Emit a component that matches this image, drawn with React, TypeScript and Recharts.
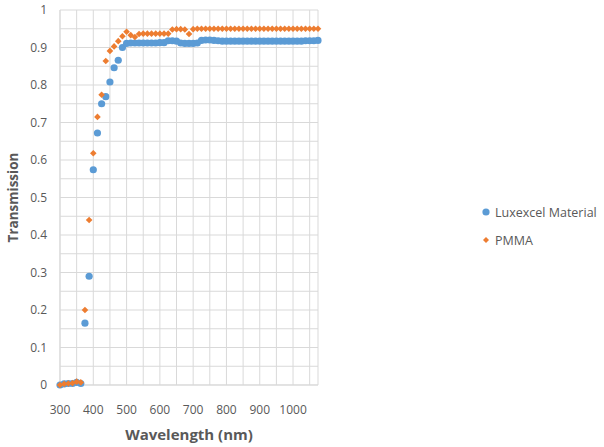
import React from 'react';
import { ScatterChart, Scatter, XAxis, YAxis, CartesianGrid, Legend, Label } from 'recharts';

const wavelengths = [
  300, 312.5, 325, 337.5, 350, 362.5, 375, 387.5, 400, 412.5, 425, 437.5, 450, 462.5, 475, 487.5,
  500, 512.5, 525, 537.5, 550, 562.5, 575, 587.5, 600, 612.5,
  625, 637.5, 650, 662.5, 675, 687.5, 700, 712.5, 725, 737.5,
  750, 762.5, 775, 787.5, 800, 812.5, 825, 837.5, 850, 862.5,
  875, 887.5, 900, 912.5, 925, 937.5, 950, 962.5, 975, 987.5,
  1000, 1012.5, 1025, 1037.5, 1050, 1062.5, 1075,
];

const luxexcel = [
  0, 0.003, 0.004, 0.004, 0.007, 0.004, 0.165, 0.29, 0.574, 0.672, 0.75, 0.769, 0.808, 0.846, 0.866, 0.9,
  0.911, 0.912, 0.912, 0.912, 0.912, 0.912, 0.912, 0.912, 0.913, 0.913,
  0.918, 0.918, 0.917, 0.912, 0.911, 0.911, 0.911, 0.912, 0.919, 0.92,
  0.92, 0.919, 0.918, 0.917, 0.917, 0.917, 0.917, 0.917, 0.917, 0.917,
  0.917, 0.917, 0.917, 0.917, 0.917, 0.917, 0.917, 0.917, 0.917, 0.917,
  0.917, 0.917, 0.917, 0.918, 0.918, 0.918, 0.919,
];

const pmma = [
  0, 0.003, 0.004, 0.005, 0.009, 0.007, 0.2, 0.44, 0.618, 0.715, 0.774, 0.864, 0.891, 0.903, 0.917, 0.93,
  0.942, 0.933, 0.928, 0.936, 0.937, 0.937, 0.937, 0.937, 0.937, 0.937,
  0.937, 0.948, 0.949, 0.949, 0.948, 0.936, 0.949, 0.95, 0.95, 0.95,
  0.95, 0.95, 0.95, 0.95, 0.95, 0.95, 0.95, 0.95, 0.95, 0.95,
  0.95, 0.95, 0.95, 0.95, 0.95, 0.95, 0.95, 0.95, 0.95, 0.95,
  0.95, 0.95, 0.95, 0.95, 0.95, 0.95, 0.95,
];

const xTicks = [300, 350, 400, 450, 500, 550, 600, 650, 700, 750, 800, 850, 900, 950, 1000, 1050];
const yTicks = [0, 0.05, 0.1, 0.15, 0.2, 0.25, 0.3, 0.35, 0.4, 0.45, 0.5, 0.55, 0.6, 0.65, 0.7, 0.75, 0.8, 0.85, 0.9, 0.95, 1];

const BLUE = '#5B9BD5';
const ORANGE = '#ED7D31';
const GREY = '#595959';
const FONT = '"Open Sans", sans-serif';

const luxData = wavelengths.map((x, i) => ({ x, y: luxexcel[i] }));
const pmmaData = wavelengths.map((x, i) => ({ x, y: pmma[i] }));

const Dot = (p: any) => <circle cx={p.cx} cy={p.cy} r={3.6} fill={BLUE} />;
const Diamond = (p: any) => {
  const s = 3.3;
  return <path d={`M${p.cx},${p.cy - s}L${p.cx + s},${p.cy}L${p.cx},${p.cy + s}L${p.cx - s},${p.cy}Z`} fill={ORANGE} />;
};

const renderLegend = (props: any) => (
  <div style={{ fontFamily: FONT, fontSize: 12.5, color: GREY }}>
    {(props.payload || []).map((entry: any, i: number) => (
      <div key={entry.value} style={{ display: 'flex', alignItems: 'center', height: 28 }}>
        <svg width={12} height={12} style={{ marginRight: 3 }}>
          {i === 0 ? <circle cx={6} cy={6} r={3.6} fill={BLUE} /> : <path d="M6,3L9,6L6,9L3,6Z" fill={ORANGE} />}
        </svg>
        <span>{entry.value}</span>
      </div>
    ))}
  </div>
);

export default function App() {
  return (
    <div style={{ position: 'absolute', left: 0, top: 0, background: '#fff' }}>
      <ScatterChart width={604} height={447} margin={{ top: 10, right: 162, bottom: 32, left: 20 }}>
        <CartesianGrid stroke="#d9d9d9" />
        <XAxis
          type="number"
          dataKey="x"
          domain={[300, 1075]}
          ticks={xTicks}
          interval={0}
          tickFormatter={(v: number) => (v % 100 === 0 ? String(v) : '')}
          tickLine={false}
          tickMargin={14}
          axisLine={{ stroke: '#d9d9d9' }}
          tick={{ fill: GREY, fontSize: 12, fontFamily: FONT }}
          height={30}
        >
          <Label
            value="Wavelength (nm)"
            position="bottom"
            offset={14}
            style={{ fill: GREY, fontSize: 15, fontWeight: 700, fontFamily: FONT }}
          />
        </XAxis>
        <YAxis
          type="number"
          dataKey="y"
          domain={[0, 1]}
          ticks={yTicks}
          interval={0}
          tickFormatter={(v: number) => (Math.round(v * 100) % 10 === 0 ? String(Math.round(v * 10) / 10) : '')}
          tickLine={false}
          tickMargin={7}
          axisLine={{ stroke: '#d9d9d9' }}
          tick={{ fill: GREY, fontSize: 12, fontFamily: FONT }}
          width={40}
        >
          <Label
            value="Transmission"
            angle={-90}
            position="insideLeft"
            content={(p: any) => {
              const vb = p.viewBox;
              const cx = vb.x - 7;
              const cy = vb.y + vb.height / 2;
              return (
                <text
                  x={cx}
                  y={cy}
                  transform={`rotate(-90 ${cx} ${cy})`}
                  textAnchor="middle"
                  dominantBaseline="central"
                  style={{ fill: GREY, fontSize: 13.5, fontWeight: 700, fontFamily: FONT }}
                >
                  Transmission
                </text>
              );
            }}
          />
        </YAxis>
        <Legend
          layout="horizontal"
          verticalAlign="middle"
          align="right"
          content={renderLegend}
          wrapperStyle={{ left: 480, top: 198, right: 'auto', width: 124, height: 'auto' }}
        />
        <Scatter name="Luxexcel Material" data={luxData} fill={BLUE} shape={Dot} isAnimationActive={false} />
        <Scatter name="PMMA" data={pmmaData} fill={ORANGE} shape={Diamond} isAnimationActive={false} />
      </ScatterChart>
    </div>
  );
}
